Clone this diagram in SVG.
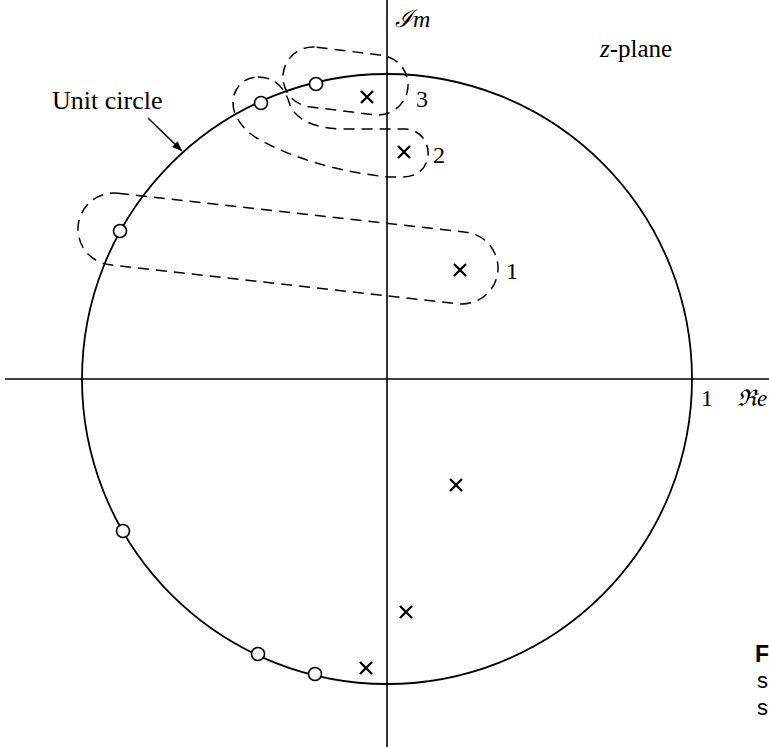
<svg xmlns="http://www.w3.org/2000/svg" width="769" height="747" viewBox="0 0 769 747">
  <defs>
    <style>
      .axis { stroke: #000; stroke-width: 1.6; fill: none; }
      .uc { stroke: #000; stroke-width: 1.8; fill: none; }
      .zero { stroke: #000; stroke-width: 1.6; fill: #fff; }
      .pole { stroke: #000; stroke-width: 2.4; fill: none; stroke-linecap: butt; }
      .dash { stroke: #000; stroke-width: 1.5; fill: none; stroke-dasharray: 11 7; }
      .serif { font-family: "Liberation Serif", "Times New Roman", serif; fill: #000; }
      .lbl { font-size: 24px; }
      .sans { font-family: "Liberation Sans", Arial, sans-serif; fill: #000; }
    </style>
    <marker id="arr" viewBox="0 0 10 10" refX="10" refY="5" markerWidth="10" markerHeight="10" markerUnits="userSpaceOnUse" orient="auto">
      <path d="M0,1 L10,5 L0,9 Z" fill="#000"/>
    </marker>
    <path id="x" d="M-6,-6 L6,6 M-6,6 L6,-6" class="pole"/>
  </defs>
  <rect width="769" height="747" fill="#fff"/>

  <g id="axes">
    <line class="axis" x1="5" y1="379" x2="769" y2="379"/>
    <line class="axis" x1="387" y1="0" x2="387" y2="747"/>
  </g>

  <g id="unit-circle">
    <circle class="uc" cx="387" cy="379" r="305"/>
  </g>

  <g id="contour-1">
    <rect class="dash" x="76.9" y="212.5" width="422.2" height="72" rx="36" ry="36" transform="rotate(6.39 288 248.5)"/>
    <text class="serif lbl" x="506" y="279">1</text>
  </g>

  <g id="contour-2">
    <path class="dash" d="M258,77 C275,77 285,88 290,105 C296,120 315,128 340,129 L402,129 C420,128 429,142 428,155 C427,168 418,177 402,177 L388,177 C340,172 290,158 255,137 C242,128 233,116 233,103 C233,88 244,77 258,77 Z"/>
    <text class="serif lbl" x="433" y="163">2</text>
  </g>

  <g id="contour-3">
    <rect class="dash" x="282.75" y="51" width="125.5" height="60" rx="30" ry="30" transform="rotate(7 345.5 81)"/>
    <text class="serif lbl" x="416" y="107">3</text>
  </g>

  <g id="zeros">
    <circle class="zero" cx="316" cy="84" r="6.5"/>
    <circle class="zero" cx="261" cy="103" r="6.5"/>
    <circle class="zero" cx="120" cy="231" r="6.5"/>
    <circle class="zero" cx="123" cy="531" r="6.5"/>
    <circle class="zero" cx="258" cy="654" r="6.5"/>
    <circle class="zero" cx="315" cy="674" r="6.5"/>
  </g>

  <g id="poles">
    <use href="#x" x="367" y="97"/>
    <use href="#x" x="404" y="152"/>
    <use href="#x" x="460" y="270"/>
    <use href="#x" x="456" y="485"/>
    <use href="#x" x="406" y="612"/>
    <use href="#x" x="366" y="668"/>
  </g>

  <g id="connectors">
    <line x1="148" y1="118" x2="182" y2="151" stroke="#000" stroke-width="1.5" marker-end="url(#arr)"/>
  </g>

  <g id="labels">
    <text class="serif" x="52" y="109" font-size="26">Unit circle</text>
    <text class="serif" x="600" y="57" font-size="25"><tspan font-style="italic">z</tspan>-plane</text>
    <text class="serif" x="395" y="27" font-size="24" font-style="italic">ℐm</text>
    <text class="serif lbl" x="701" y="406">1</text>
    <text class="serif" x="737" y="406" font-size="23" font-style="italic">ℜe</text>
  </g>

  <g id="caption-fragment">
    <text class="sans" x="755" y="662" font-size="23" font-weight="bold">F</text>
    <text class="sans" x="757" y="688" font-size="22">s</text>
    <text class="sans" x="757" y="715" font-size="22">s</text>
  </g>
</svg>
